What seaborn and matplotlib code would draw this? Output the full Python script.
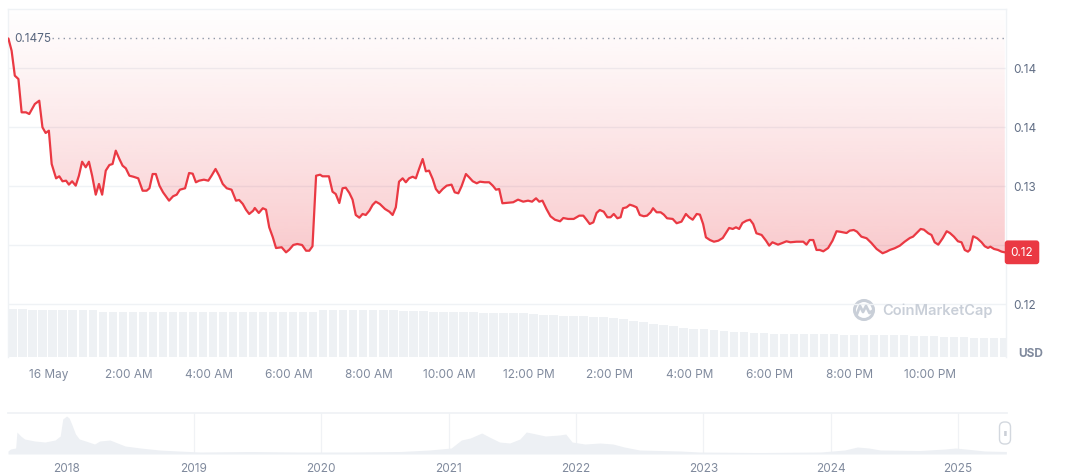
import numpy as np
import matplotlib
matplotlib.use("Agg")
import matplotlib.pyplot as plt
import matplotlib.transforms as mtransforms
from matplotlib.patches import Polygon, Circle, FancyBboxPatch
import seaborn as sns

# ---------------- data ----------------
hours = [-1.00, -0.92, -0.84, -0.75, -0.67, -0.56, -0.48, -0.34, -0.23, -0.15, -0.07, 0.01, 0.08, 0.19, 0.27,
         0.35, 0.44, 0.51, 0.59, 0.68, 0.76, 0.84, 0.93, 1.01, 1.09, 1.18, 1.26, 1.34, 1.43, 1.52, 1.60, 1.68,
         1.77, 1.85, 1.93, 2.02, 2.12, 2.24, 2.35, 2.45, 2.52, 2.60, 2.68, 2.77, 2.86, 3.01, 3.11, 3.20, 3.28,
         3.41, 3.51, 3.60, 3.68, 3.76, 3.88, 3.99, 4.07, 4.17, 4.26, 4.35, 4.45, 4.57, 4.68, 4.76, 4.85, 4.93,
         5.01, 5.11, 5.15, 5.25, 5.35, 5.43, 5.51, 5.60, 5.68, 5.82, 5.93, 6.01, 6.11, 6.21, 6.33, 6.43, 6.51,
         6.59, 6.68, 6.78, 6.84, 7.00, 7.09, 7.17, 7.26, 7.34, 7.42, 7.51, 7.59, 7.67, 7.76, 7.84, 7.92, 8.01,
         8.09, 8.17, 8.27, 8.40, 8.51, 8.59, 8.67, 8.75, 8.84, 8.92, 9.00, 9.09, 9.17, 9.25, 9.34, 9.42, 9.50,
         9.59, 9.67, 9.75, 9.84, 9.94, 10.06, 10.14, 10.23, 10.31, 10.42, 10.50, 10.59, 10.69, 10.77, 10.89,
         11.00, 11.09, 11.17, 11.25, 11.33, 11.60, 11.72, 11.85, 11.97, 12.07, 12.17, 12.25, 12.33, 12.43,
         12.53, 12.64, 12.77, 12.85, 12.97, 13.11, 13.25, 13.35, 13.43, 13.51, 13.60, 13.68, 13.76, 13.86,
         13.95, 14.03, 14.11, 14.20, 14.28, 14.34, 14.43, 14.51, 14.59, 14.68, 14.76, 14.86, 14.94, 15.03,
         15.09, 15.18, 15.28, 15.36, 15.44, 15.58, 15.68, 15.80, 15.91, 15.99, 16.08, 16.18, 16.26, 16.34,
         16.41, 16.51, 16.61, 16.72, 16.83, 16.93, 16.99, 17.08, 17.16, 17.24, 17.32, 17.42, 17.51, 17.59,
         17.67, 17.80, 17.91, 17.99, 18.07, 18.21, 18.32, 18.42, 18.52, 18.67, 18.84, 18.92, 19.00, 19.09,
         19.17, 19.25, 19.34, 19.46, 19.57, 19.67, 19.75, 19.92, 20.00, 20.10, 20.18, 20.29, 20.42, 20.54,
         20.67, 20.82, 20.92, 21.00, 21.12, 21.25, 21.37, 21.50, 21.58, 21.67, 21.77, 21.85, 21.96, 22.04,
         22.12, 22.21, 22.32, 22.42, 22.50, 22.60, 22.70, 22.79, 22.87, 22.95, 23.00, 23.08, 23.18, 23.29,
         23.37, 23.45, 23.51, 23.60, 23.70, 23.79, 23.87]

prices = [0.14750, 0.14605, 0.14309, 0.14269, 0.13874, 0.13874, 0.13854, 0.13973, 0.14012, 0.13696, 0.13629,
          0.13656, 0.13261, 0.13091, 0.13115, 0.13056, 0.13063, 0.13016, 0.13056, 0.13004, 0.13122, 0.13288,
          0.13222, 0.13288, 0.13122, 0.12897, 0.13024, 0.12897, 0.13182, 0.13249, 0.13261, 0.13419, 0.13320,
          0.13241, 0.13210, 0.13122, 0.13110, 0.13091, 0.12944, 0.12944, 0.12973, 0.13142, 0.13142, 0.13004,
          0.12925, 0.12826, 0.12878, 0.12897, 0.12956, 0.12973, 0.13154, 0.13146, 0.13044, 0.13063, 0.13075,
          0.13063, 0.13122, 0.13202, 0.13122, 0.13024, 0.12973, 0.12956, 0.12826, 0.12834, 0.12787, 0.12719,
          0.12668, 0.12707, 0.12739, 0.12680, 0.12736, 0.12719, 0.12510, 0.12391, 0.12264, 0.12273, 0.12213,
          0.12244, 0.12300, 0.12312, 0.12300, 0.12232, 0.12232, 0.12285, 0.13122, 0.13134, 0.13115, 0.13115,
          0.12932, 0.12905, 0.12798, 0.12973, 0.12980, 0.12917, 0.12838, 0.12656, 0.12624, 0.12668, 0.12656,
          0.12707, 0.12775, 0.12814, 0.12787, 0.12727, 0.12695, 0.12656, 0.12747, 0.13051, 0.13091, 0.13044,
          0.13091, 0.13110, 0.13091, 0.13202, 0.13320, 0.13174, 0.13182, 0.13083, 0.12964, 0.12917, 0.12964,
          0.13004, 0.13016, 0.12925, 0.12913, 0.12996, 0.13142, 0.13103, 0.13056, 0.13032, 0.13051, 0.13044,
          0.13044, 0.13004, 0.12956, 0.12964, 0.12795, 0.12807, 0.12838, 0.12814, 0.12826, 0.12814, 0.12854,
          0.12814, 0.12826, 0.12727, 0.12641, 0.12600, 0.12581, 0.12620, 0.12609, 0.12609, 0.12648, 0.12648,
          0.12600, 0.12549, 0.12569, 0.12680, 0.12715, 0.12695, 0.12629, 0.12629, 0.12668, 0.12617, 0.12629,
          0.12736, 0.12747, 0.12778, 0.12766, 0.12747, 0.12656, 0.12641, 0.12648, 0.12688, 0.12736, 0.12688,
          0.12688, 0.12660, 0.12617, 0.12609, 0.12558, 0.12577, 0.12668, 0.12629, 0.12600, 0.12668, 0.12660,
          0.12549, 0.12391, 0.12359, 0.12339, 0.12351, 0.12383, 0.12458, 0.12502, 0.12490, 0.12510, 0.12490,
          0.12561, 0.12588, 0.12600, 0.12549, 0.12439, 0.12419, 0.12351, 0.12292, 0.12332, 0.12304, 0.12324,
          0.12344, 0.12332, 0.12339, 0.12339, 0.12304, 0.12359, 0.12359, 0.12241, 0.12241, 0.12225, 0.12264,
          0.12351, 0.12463, 0.12458, 0.12442, 0.12470, 0.12478, 0.12458, 0.12399, 0.12380, 0.12324, 0.12253,
          0.12202, 0.12221, 0.12241, 0.12261, 0.12292, 0.12339, 0.12383, 0.12399, 0.12442, 0.12490, 0.12482,
          0.12439, 0.12419, 0.12332, 0.12304, 0.12380, 0.12463, 0.12442, 0.12399, 0.12344, 0.12332, 0.12241,
          0.12221, 0.12244, 0.12403, 0.12380, 0.12332, 0.12285, 0.12265, 0.12280, 0.12253, 0.12241, 0.12221,
          0.12213]

# 15-minute volume bins starting 15 May 23:00 (relative units)
volume = [47.6, 47.6, 47.5, 47.5, 47.5, 47.4, 47.4, 47.4, 47.3,
          45.2, 45.2, 45.1, 45.1, 45.1, 45.0, 45.0, 45.0, 45.0, 44.9, 44.9, 44.9, 44.9, 44.8, 44.8, 44.8,
          44.8, 44.7, 44.7, 44.7, 44.7, 44.6,
          46.8, 46.8, 46.7, 46.7, 46.7, 46.6, 46.6, 46.6, 46.5, 46.5, 46.4,
          45.0, 44.9, 44.8, 44.7, 44.6, 44.5, 44.4, 44.2, 44.0, 43.8, 43.5,
          42.3, 41.8, 41.4, 41.0, 40.6, 40.2, 39.6, 38.8, 37.6, 36.2, 34.8, 33.4,
          31.8, 30.6, 29.5, 28.5, 27.6, 26.8, 26.0, 25.4, 24.8, 24.3, 23.9, 23.5,
          23.3, 23.1, 22.9, 22.8, 22.7, 22.6, 22.5, 22.4, 22.2, 22.1, 22.0, 21.8,
          21.6, 21.3, 21.0, 20.7, 20.4, 20.1, 19.8, 19.5, 19.2, 18.9, 18.6]
vol_start = -1.0
vol_step = 0.25

time_ticks = [0, 2, 4, 6, 8, 10, 12, 14, 16, 18, 20, 22]
time_labels = ["16 May", "2:00 AM", "4:00 AM", "6:00 AM", "8:00 AM", "10:00 AM",
               "12:00 PM", "2:00 PM", "4:00 PM", "6:00 PM", "8:00 PM", "10:00 PM"]
price_ticks = [0.116, 0.123, 0.130, 0.137, 0.144]

nav_years = [2017.54, 2017.56, 2017.60, 2017.61, 2017.64, 2017.67, 2017.75, 2017.83, 2017.91, 2017.95,
             2017.97, 2018.00, 2018.02, 2018.04, 2018.07, 2018.10, 2018.15, 2018.22, 2018.26, 2018.34,
             2018.40, 2018.46, 2018.58, 2018.73, 2018.88, 2019.05, 2019.44, 2019.83, 2020.22, 2020.62,
             2020.85, 2021.02, 2021.10, 2021.17, 2021.26, 2021.32, 2021.40, 2021.48, 2021.56, 2021.61,
             2021.65, 2021.76, 2021.87, 2021.92, 2021.97, 2022.07, 2022.19, 2022.29, 2022.38, 2022.50,
             2022.82, 2022.97, 2023.44, 2023.92, 2024.11, 2024.21, 2024.30, 2024.39, 2024.70, 2024.90,
             2024.98, 2025.06, 2025.21, 2025.38]
nav_values = [3, 5, 6, 22, 18, 15, 13, 12, 14, 18,
              35, 38, 36, 30, 20, 15, 13, 10, 13, 14,
              11, 8, 6, 4, 3, 2, 2.5, 2, 2, 2.5,
              4, 6, 14, 16, 21, 17, 12, 11, 15, 22,
              21, 18, 19, 20, 12, 10, 11, 10, 7, 4,
              3, 2, 1.5, 2, 4, 7, 6, 4, 3.5, 5,
              6, 5, 3, 2.5]
year_ticks = [2018, 2019, 2020, 2021, 2022, 2023, 2024, 2025]

# ---------------- style ----------------
sns.set_theme(style="white")
plt.rcParams['font.family'] = ['Inter', 'DejaVu Sans']

RED = "#ea3943"
GRID = "#eff2f5"
TXT = "#616e85"
W, H = 1072, 477

fig = plt.figure(figsize=(W / 100, H / 100), dpi=100)
fig.patch.set_facecolor("white")

XMIN, XMAX = -1.01, 23.90
YMIN, YMAX = 0.10971, 0.15100

ax = fig.add_axes([8 / W, 1 - 358 / H, 998 / W, 348 / H])
axv = ax.twinx()
ax.set_zorder(2)
axv.set_zorder(1)
ax.patch.set_visible(False)

# volume bars
vol_x = vol_start + vol_step * np.arange(len(volume))
axv.bar(vol_x, volume, width=vol_step * 0.85, align="edge", color="#eef1f4", linewidth=0)
axv.set_ylim(0, 348)
axv.set_yticks([])
for s in axv.spines.values():
    s.set_visible(False)

# gradient fill above the line
n = 256
grad = np.zeros((n, 1, 4))
grad[..., 0] = 234 / 255
grad[..., 1] = 57 / 255
grad[..., 2] = 67 / 255
t = np.linspace(0, 1, n)  # 0 bottom -> 1 top
grad[:, 0, 3] = 0.27 * (1 - t) ** 1.15 + 0.005
pmin = min(prices)
im = ax.imshow(grad, extent=[XMIN, XMAX, pmin - 0.001, YMAX], origin="lower",
               aspect="auto", interpolation="bilinear", zorder=1)
poly = Polygon(list(zip(hours, prices)) + [(hours[-1], YMAX), (XMIN, YMAX), (XMIN, prices[0])],
               closed=True, facecolor="none", edgecolor="none", transform=ax.transData)
ax.add_patch(poly)
im.set_clip_path(poly)

# price line
sns.lineplot(x=hours, y=prices, ax=ax, color=RED, linewidth=1.6, estimator=None, sort=False, zorder=4)

# max dotted line + label
pmax = max(prices)
x_dot0 = XMIN + (XMAX - XMIN) * (44 / 998)
ax.plot([x_dot0, XMAX], [pmax, pmax], linestyle=(0, (1, 3)), color="#8f98a8", linewidth=1, zorder=3)
ax.text(XMIN + (XMAX - XMIN) * (6 / 998), pmax, f"{pmax:.4f}", ha="left", va="center",
        fontsize=8.5, color="#58667e", zorder=5)

ax.set_xlim(XMIN, XMAX)
ax.set_ylim(YMIN, YMAX)

last = prices[-1]
ax.set_yticks(price_ticks)
# the tick nearest the live price is hidden beneath the price badge, as in the reference
ax.set_yticklabels(["" if abs(v - last) < 0.002 else f"{v:.2f}" for v in price_ticks])
ax.yaxis.tick_right()
ax.tick_params(axis="y", length=0, pad=5, labelsize=8.5, labelcolor=TXT)
ax.set_xticks(time_ticks)
ax.set_xticklabels(time_labels)
ax.tick_params(axis="x", length=0, pad=8, labelsize=8.5, labelcolor="#808a9d")
ax.grid(axis="y", color=GRID, linewidth=1)
ax.grid(axis="x", visible=False)
ax.set_axisbelow(True)
for name, s in ax.spines.items():
    s.set_color(GRID)
    s.set_linewidth(1)
ax.spines["bottom"].set_visible(False)

# last price badge
trans = mtransforms.blended_transform_factory(ax.transAxes, ax.transData)
ax.text(1.0 + 16 / 998, last, f"{last:.2f}", transform=trans, ha="center", va="center",
        fontsize=8.5, color="white", zorder=10, clip_on=False,
        bbox=dict(boxstyle="round,pad=0.5,rounding_size=0.25", fc=RED, ec="none"))

fig.text(1031 / W, 1 - 354 / H, "USD", ha="center", va="center", fontsize=8.5,
         fontweight="bold", color="#808a9d")

# watermark
wm = "#c9cfd8"
fig.patches.append(Circle((864, H - 311), 9.5, transform=mtransforms.IdentityTransform(),
                          fill=False, edgecolor=wm, linewidth=2.2))
wx = np.array([857, 860, 863, 866, 869.5, 872])
wy = np.array([H - 315, H - 307, H - 313, H - 307, H - 314, H - 312])
fig.lines.append(plt.Line2D(wx, wy, transform=mtransforms.IdentityTransform(), color=wm, linewidth=2))
fig.text(882 / W, 1 - 311 / H, "CoinMarketCap", ha="left", va="center", fontsize=10.5,
         fontweight="semibold", color=wm)

# navigator
axn = fig.add_axes([8 / W, 1 - 455 / H, 999 / W, 41 / H])
axn.fill_between(nav_years, nav_values, 0, color="#edf0f4", linewidth=0)
axn.set_xlim(2017.54, 2025.385)
axn.set_ylim(0, 41)
for yr in year_ticks[1:]:
    axn.axvline(yr, color="#f0f2f5", linewidth=0.9, zorder=0)
axn.set_xticks(year_ticks)
axn.set_xticklabels([str(y) for y in year_ticks])
axn.tick_params(axis="x", length=0, pad=6, labelsize=8.5, labelcolor="#808a9d")
axn.set_yticks([])
for name, s in axn.spines.items():
    s.set_visible(name == "top")
    s.set_color(GRID)

# navigator handle
fig.patches.append(FancyBboxPatch((999.5, H - 445), 11, 22, boxstyle="round,pad=0,rounding_size=5",
                                  transform=mtransforms.IdentityTransform(), fc="white",
                                  ec="#d3d8df", linewidth=1))
fig.text(1005 / W, 1 - 434 / H, "II", ha="center", va="center", fontsize=5.5, color="#8a94a6")

fig.savefig("out.png", dpi=100)
